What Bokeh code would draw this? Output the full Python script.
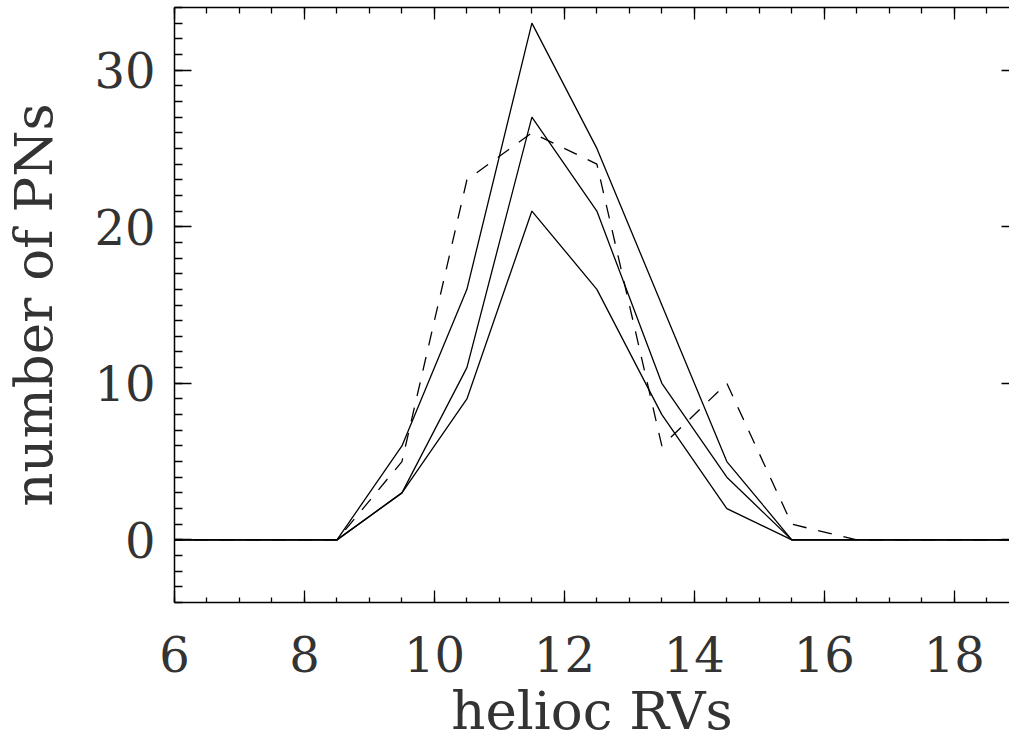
from bokeh.plotting import figure
from bokeh.models import LinearAxis, FixedTicker, Range1d
from bokeh.embed import file_html
from bokeh.resources import INLINE

# --- data ---
rv_bins = [5.5, 6.5, 7.5, 8.5, 9.5, 10.5, 11.5, 12.5, 13.5, 14.5, 15.5, 16.5, 17.5, 18.5, 19.5]
counts_top = [0, 0, 0, 0, 6, 16, 33, 25, 15, 5, 0, 0, 0, 0, 0]
counts_mid = [0, 0, 0, 0, 3, 11, 27, 21, 10, 4, 0, 0, 0, 0, 0]
counts_low = [0, 0, 0, 0, 3, 9, 21, 16, 8, 2, 0, 0, 0, 0, 0]
counts_dashed = [0, 0, 0, 0, 5, 23, 26, 24, 6, 10, 1, 0, 0, 0, 0]

x_major = [6, 8, 10, 12, 14, 16, 18]
x_minor = [6 + 0.5 * i for i in range(27)]
y_major = [0, 10, 20, 30]
y_minor = list(range(-4, 35))

FONT = "DejaVu Serif"
TXT = "#333333"

p = figure(frame_width=835, frame_height=595,
           x_range=Range1d(6, 18.85), y_range=Range1d(-4, 34),
           output_backend="svg", toolbar_location=None,
           min_border_left=168, min_border_bottom=100,
           min_border_top=7, min_border_right=0,
           x_axis_label="helioc RVs", y_axis_label="number of PNs")
p.outline_line_color = None
p.xgrid.visible = False
p.ygrid.visible = False
p.background_fill_color = "white"
p.border_fill_color = "white"

for ys in (counts_top, counts_mid, counts_low):
    p.line(rv_bins, ys, line_color="black", line_width=1.3)
p.line(rv_bins, counts_dashed, line_color="black", line_width=1.3, line_dash="14 12")

def style(ax, major_in, minor_in, labels=True):
    ax.axis_line_color = "black"
    ax.axis_line_width = 1.5
    ax.major_tick_line_color = "black"
    ax.minor_tick_line_color = "black"
    ax.major_tick_line_width = 1.3
    ax.minor_tick_line_width = 1.3
    ax.major_tick_in = major_in
    ax.major_tick_out = 0
    ax.minor_tick_in = minor_in
    ax.minor_tick_out = 0
    if not labels:
        ax.major_label_text_color = None
        ax.major_label_text_font_size = "1px"
        ax.major_label_standoff = 0

xa = p.xaxis[0]
xa.ticker = FixedTicker(ticks=x_major, minor_ticks=x_minor)
style(xa, 12, 5)
xa.major_label_text_font = FONT
xa.major_label_text_font_size = "48px"
xa.major_label_text_color = TXT
xa.major_label_standoff = 33
xa.axis_label_text_font = FONT
xa.axis_label_text_font_size = "53px"
xa.axis_label_text_font_style = "normal"
xa.axis_label_text_color = TXT
xa.axis_label_standoff = 5

ya = p.yaxis[0]
ya.ticker = FixedTicker(ticks=y_major, minor_ticks=y_minor)
style(ya, 17, 8)
ya.major_label_text_font = FONT
ya.major_label_text_font_size = "48px"
ya.major_label_text_color = TXT
ya.major_label_standoff = 19
ya.axis_label_text_font = FONT
ya.axis_label_text_font_size = "53px"
ya.axis_label_text_font_style = "normal"
ya.axis_label_text_color = TXT
ya.axis_label_standoff = 27

top = LinearAxis(ticker=FixedTicker(ticks=x_major, minor_ticks=x_minor))
style(top, 12, 6, labels=False)
p.add_layout(top, "above")

right = LinearAxis(ticker=FixedTicker(ticks=y_major, minor_ticks=[]))
style(right, 8, 0, labels=False)
right.axis_line_color = None
p.add_layout(right, "right")

open("out.html", "w").write(file_html(p, INLINE))
